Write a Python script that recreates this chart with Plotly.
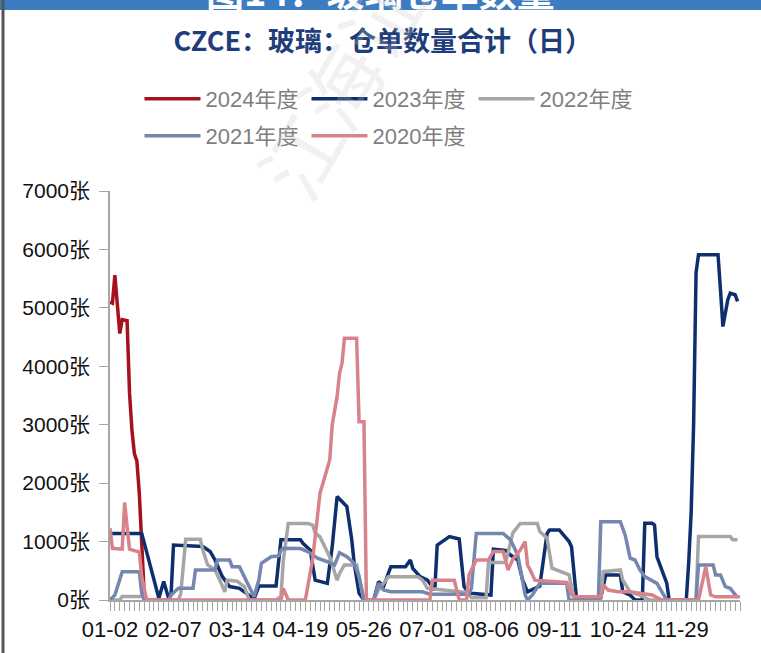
import plotly.graph_objects as go

# ---- data (x = trading-day index on the category axis) ----
label_text = ["01-02", "02-07", "03-14", "04-19", "05-26", "07-01", "08-06", "09-11", "10-24", "11-29"]
label_index = [0, 26, 52, 78, 104, 130, 156, 182, 208, 234]

x2024 = [0, 1, 2, 3, 4, 5, 7, 8, 9, 10, 11, 12, 13, 14, 15]
y2024 = [5100, 5080, 5560, 5080, 4560, 4800, 4780, 3540, 2900, 2500, 2380, 1830, 975, 100, 0]

x2023 = [0, 13, 20, 22, 24, 25, 26, 38, 41, 43, 46, 49, 53, 55, 57, 59, 61, 68, 70, 78,
         79, 82, 84, 89, 91, 93, 95, 97, 99, 100, 102, 104, 108, 110, 112, 114, 115, 121, 123, 124,
         127, 130, 132, 133, 134, 136, 139, 143, 144, 145, 146, 148, 156, 157, 162, 164, 167, 169, 171, 174,
         176, 179, 180, 184, 186, 188, 189, 190, 191, 201, 203, 209, 210, 213, 215, 218, 219, 222, 223, 224,
         225, 226, 228, 229, 236, 237, 238, 239, 240, 241, 249, 250, 251, 253, 254, 256, 257]
y2023 = [1140, 1140, 30, 315, 30, 85, 940, 915, 830, 685, 400, 230, 200, 140, 85, 20, 240, 240, 1030, 1030,
         970, 855, 340, 285, 910, 1770, 1685, 1600, 1030, 630, 115, 0, 0, 315, 230, 485, 570, 570, 685, 540,
         400, 340, 230, 170, 940, 1000, 1085, 1045, 600, 230, 170, 115, 85, 870, 850, 770, 685, 340, 140, 200,
         240, 1140, 1200, 1200, 1110, 1000, 910, 400, 40, 40, 430, 430, 140, 85, 0, 0, 1315, 1315, 1280, 740,
         630, 545, 290, 0, 0, 650, 1500, 3000, 5600, 5910, 5910, 5310, 4680, 5140, 5250, 5225, 5110]

x2022 = [0, 4, 5, 14, 15, 28, 29, 30, 31, 37, 38, 40, 43, 45, 47, 48, 52, 55, 57, 68,
         70, 71, 73, 81, 83, 84, 86, 90, 93, 94, 96, 101, 104, 108, 110, 114, 126, 128, 130, 146,
         148, 154, 155, 162, 165, 168, 175, 176, 179, 181, 183, 186, 188, 189, 190, 201, 202, 209, 210, 213,
         217, 221, 240, 241, 254, 255, 257]
y2022 = [0, 0, 60, 60, 0, 0, 115, 600, 1040, 1040, 855, 600, 515, 340, 140, 340, 320, 230, 0, 0,
         60, 685, 1310, 1310, 1280, 1150, 1080, 735, 340, 455, 600, 600, 0, 0, 170, 400, 400, 340, 200, 130,
         40, 40, 640, 640, 1150, 1310, 1310, 1170, 1060, 545, 515, 455, 430, 230, 55, 55, 485, 515, 340, 140,
         85, 0, 0, 1085, 1085, 1030, 1030]

x2021 = [0, 2, 5, 12, 13, 14, 24, 25, 28, 34, 35, 43, 44, 49, 50, 53, 55, 57, 59, 61,
         62, 64, 66, 69, 70, 71, 78, 81, 85, 89, 92, 94, 97, 100, 102, 104, 108, 110, 112, 115,
         128, 131, 147, 148, 149, 150, 161, 164, 167, 169, 170, 171, 173, 176, 187, 188, 200, 201, 209, 211,
         213, 215, 217, 219, 222, 224, 226, 228, 240, 241, 247, 248, 250, 252, 254, 256, 257]
y2021 = [0, 85, 485, 485, 115, 0, 0, 85, 200, 200, 515, 515, 685, 685, 570, 570, 400, 230, 55, 350,
         630, 685, 740, 755, 850, 885, 880, 830, 715, 655, 600, 810, 740, 630, 400, 0, 0, 285, 170, 140,
         140, 100, 100, 200, 715, 1140, 1140, 1030, 770, 340, 85, 0, 85, 285, 285, 0, 0, 1340, 1340, 1110,
         715, 685, 515, 400, 340, 285, 140, 0, 0, 600, 600, 430, 430, 230, 200, 85, 40]

x2020 = [0, 1, 5, 6, 7, 8, 12, 13, 15, 70, 71, 73, 80, 83, 86, 88, 90, 91, 93, 94,
         95, 96, 101, 102, 104, 105, 131, 132, 141, 143, 146, 147, 150, 155, 157, 161, 163, 165, 168, 170,
         171, 172, 174, 187, 189, 190, 201, 202, 204, 208, 213, 217, 222, 226, 241, 244, 246, 248, 258]
y2020 = [1230, 885, 870, 1670, 1255, 870, 820, 400, 0, 0, 200, 0, 0, 700, 1825, 2110, 2400, 3000, 3480, 3880,
         4050, 4480, 4480, 3050, 3050, 0, 0, 340, 340, 0, 0, 430, 685, 685, 830, 830, 515, 700, 855, 1000,
         600, 520, 340, 300, 100, 55, 55, 255, 170, 140, 140, 115, 85, 0, 0, 570, 85, 55, 55]

series = [
    ("2024年度", x2024, y2024, "#A5121E", "legend"),
    ("2023年度", x2023, y2023, "#0E2F6E", "legend"),
    ("2022年度", x2022, y2022, "#A6A6A6", "legend"),
    ("2021年度", x2021, y2021, "#7587AF", "legend2"),
    ("2020年度", x2020, y2020, "#D8838C", "legend2"),
]

num_font = "Liberation Sans, Noto Sans CJK SC, sans-serif"
cjk_font = "Noto Sans CJK SC, sans-serif"

fig = go.Figure()
for name, xs, ys, color, lg in series:
    fig.add_trace(go.Scatter(x=xs, y=ys, mode="lines", name=name,
                             line=dict(color=color, width=3.5), legend=lg))

legend_common = dict(orientation="h", xanchor="left", yanchor="middle",
                     font=dict(size=22, color="#7F7F7F", family=num_font),
                     itemwidth=56, entrywidth=96, entrywidthmode="pixels",
                     bgcolor="rgba(0,0,0,0)", traceorder="normal")

fig.update_layout(
    width=761, height=653,
    margin=dict(l=110, r=21, t=191, b=53),
    paper_bgcolor="white", plot_bgcolor="white",
    showlegend=True,
    legend=dict(x=0.0468, y=1.225, **legend_common),
    legend2=dict(x=0.0468, y=1.1345, **legend_common),
    title=dict(text="<b>CZCE：玻璃：仓单数量合计（日）</b>", x=0.433, xref="paper",
               y=1 - 42 / 653, yref="container", xanchor="center", yanchor="middle",
               font=dict(size=27, color="#1F3D7A", family=cjk_font)),
    xaxis=dict(range=[0, 258], tickmode="array", tickvals=label_index, ticktext=label_text,
               ticks="outside", ticklen=9, tickcolor="#A6A6A6", tickwidth=1,
               minor=dict(dtick=2, tick0=0, ticks="outside", ticklen=9, tickcolor="#A6A6A6", tickwidth=1),
               showline=True, linecolor="#A6A6A6", linewidth=1.5, showgrid=False, zeroline=False,
               tickfont=dict(size=22, color="#111111", family=num_font)),
    yaxis=dict(range=[0, 7000], dtick=1000, ticksuffix="张",
               ticks="outside", ticklen=9, tickcolor="#A6A6A6", tickwidth=1, ticklabelstandoff=5,
               showline=True, linecolor="#A6A6A6", linewidth=1.5, showgrid=False, zeroline=False,
               tickfont=dict(size=21, color="#111111", family=num_font)),
)

# top banner, left border, watermark
fig.add_shape(type="rect", xref="paper", yref="paper", x0=-0.2, x1=1.1,
              y0=(600 - 10) / 409, y1=(600 + 5) / 409, fillcolor="#3E7CC2", line_width=0, layer="below")
fig.add_shape(type="line", xref="paper", yref="paper", x0=(3 - 110) / 630, x1=(3 - 110) / 630,
              y0=-0.2, y1=1.5, line=dict(color="#555555", width=3))
fig.add_annotation(text="<b>图14：玻璃仓单数量</b>", xref="paper", yref="paper",
                   x=(380 - 110) / 630, y=(600 + 10) / 409, xanchor="center", yanchor="middle",
                   showarrow=False, font=dict(size=38, color="white", family=cjk_font))
fig.add_annotation(text="江海证券", xref="paper", yref="paper",
                   x=(358 - 110) / 630, y=(600 - 50) / 409, xanchor="center", yanchor="middle",
                   showarrow=False, textangle=-60,
                   font=dict(size=80, color="rgba(200,200,200,0.25)", family=cjk_font))

fig.write_html("out.html", config={"displayModeBar": False},
               post_script="document.body.style.margin='0px';")
